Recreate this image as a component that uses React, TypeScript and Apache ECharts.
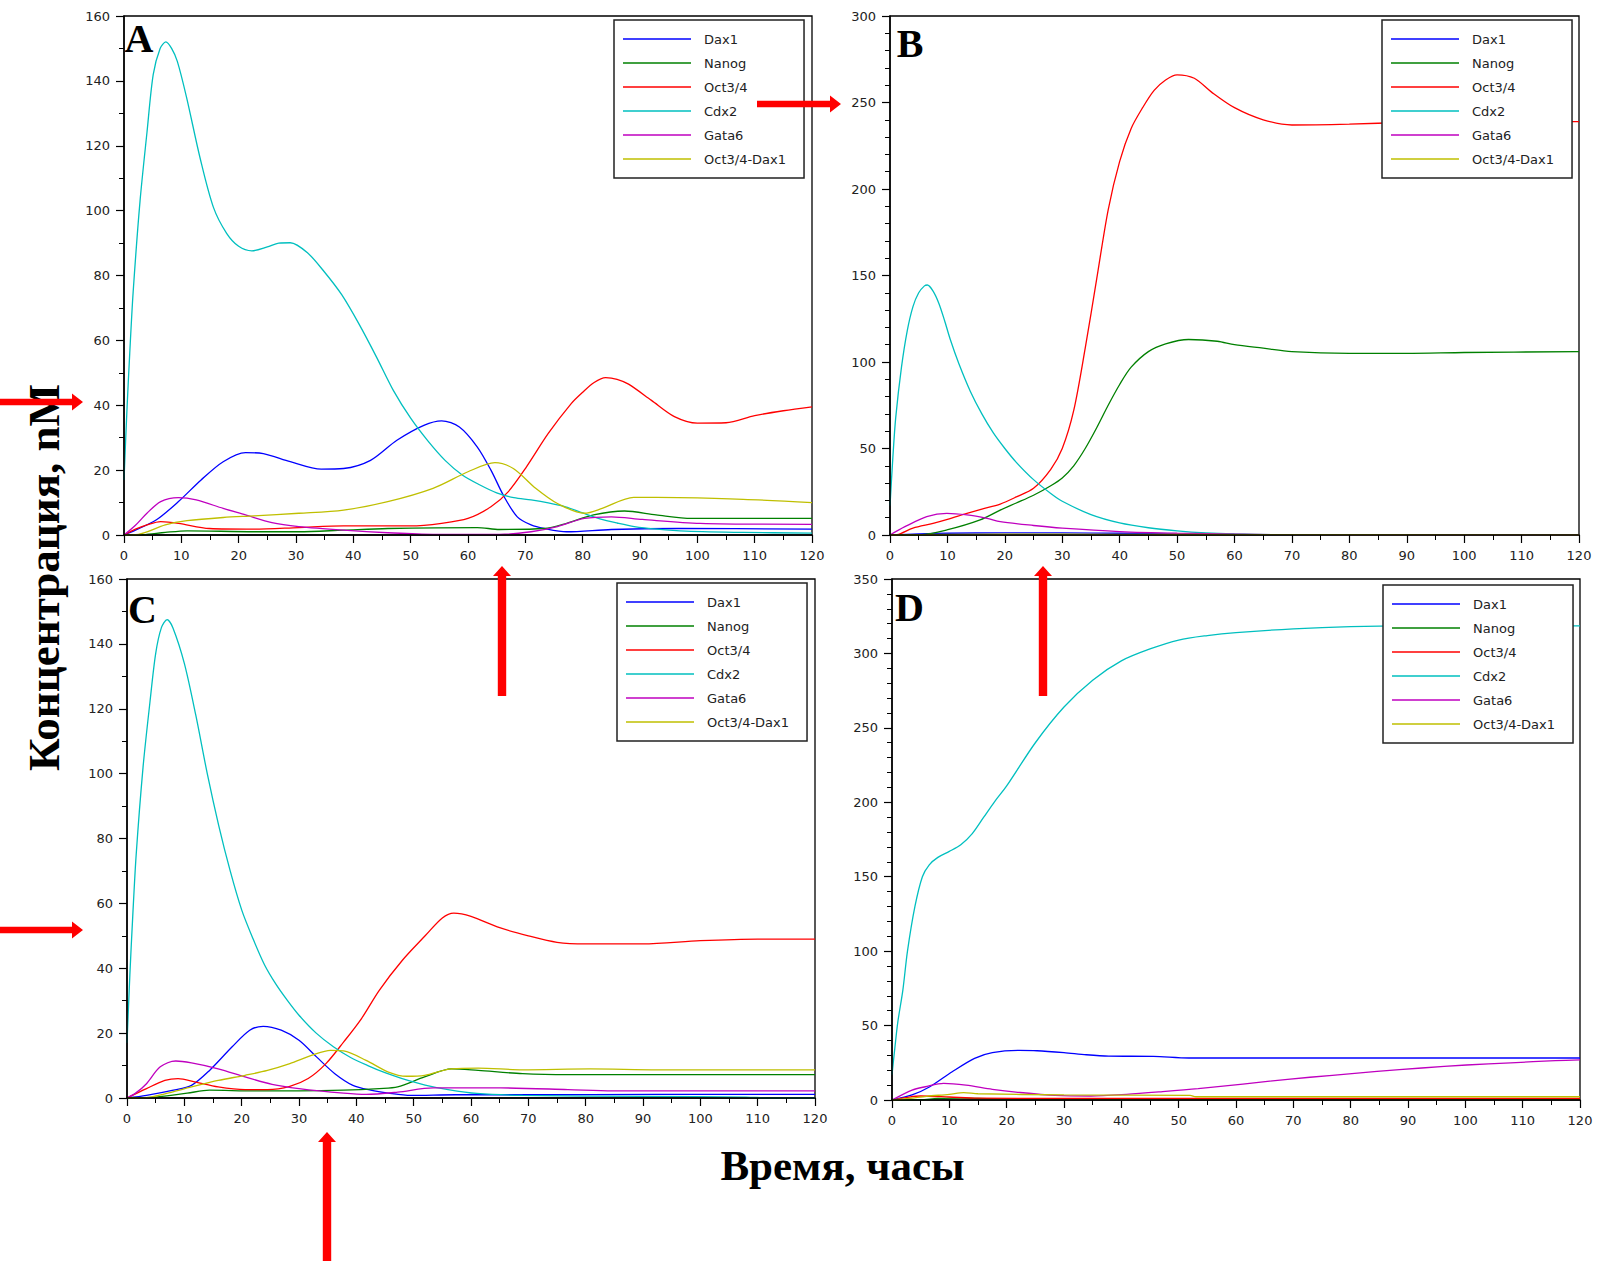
import React, { useEffect, useRef } from "react";
import * as echarts from "echarts";

const NAMES = ["Dax1", "Nanog", "Oct3/4", "Cdx2", "Gata6", "Oct3/4-Dax1"];
const COLORS = ["#0000ff", "#008000", "#ff0000", "#00bfbf", "#bf00bf", "#bfbf00"];
const PANEL_LETTERS = ["A", "B", "C", "D"];
const Y_MAX = [160, 300, 160, 350];
const Y_STEP = [20, 50, 20, 50];
const Y_MINOR = [2, 5, 2, 5];
const X_TITLE = "Время, часы";
const Y_TITLE = "Концентрация, nM";

// ---------- Panel A ----------
const A_dax1 = [[0,0],[2,1.5],[5.6,4.6],[9.5,10.3],[13.4,16.9],[17.3,22.6],[21.2,25.4],[24.3,25.1],[29,22.6],[34.4,20.3],[38.3,20.5],[43,23],[47.6,29.2],[52.3,33.8],[55.4,35.2],[58.5,33.3],[61.6,27.2],[64,20],[66.3,11.8],[68.6,5.6],[71,3.1],[73.3,2],[77.2,1],[85,1.7],[96.7,2],[120,1.8]];
const A_nanog = [[0,0],[3.3,0.1],[7.2,0.8],[11,1.3],[22.7,1],[30.5,1],[38.3,1.5],[46,2],[61.6,2.3],[65.5,1.7],[73.3,2],[77.2,3.6],[81.9,6.2],[87.3,7.4],[92.8,6.2],[99,5.1],[120,5.1]];
const A_oct4 = [[0,0],[2,1.8],[4,3.1],[6.4,4.1],[9.5,3.6],[14.9,2],[22.7,1.8],[30.5,2.3],[38.3,2.8],[50,2.8],[55.4,3.6],[60,5.1],[64,8.7],[67,13.3],[70.2,21],[74,31.3],[78,40.5],[80,44],[82,47],[84,48.5],[86,48],[88,46.5],[92,41.5],[96,36.5],[100,34.5],[105,34.6],[110,36.8],[115,38.3],[120,39.5]];
const A_cdx2 = [[0,17],[0.5,38],[1,56],[1.6,75],[2.8,103],[4,124],[5.1,142],[6.3,150],[7.3,152],[8.3,150],[9.3,146],[10.9,135],[13.3,116],[15.6,101],[17.9,93],[20,89],[22.3,87.6],[25,88.8],[27,90],[29,90.1],[32,87],[35,81],[38,74],[41,65],[44,55],[47,44.5],[50,36],[53,29],[56,23],[59,18.5],[62,15.5],[65,13],[68,11.5],[71,10.8],[74,9.9],[77,8.7],[80,6.8],[83,5],[86,3.7],[89,2.6],[93,1.8],[98,1.2],[108,0.8],[120,0.6]];
const A_gata6 = [[0,0],[2,3],[4,6.7],[6.4,10.3],[9.5,11.5],[12.6,10.8],[17.3,8.2],[21.2,6.2],[25.8,3.8],[30.5,2.6],[38.3,1.5],[46,0.7],[53.9,0.2],[65.5,0.2],[71,1],[75.6,2.6],[80.3,5.1],[85,5.6],[90.4,4.8],[100.5,3.6],[120,3.3]];
const A_complex = [[0,0],[2.5,0.2],[7.2,3.1],[11,4.4],[17.3,5.4],[22.7,5.9],[30.5,6.7],[38.3,7.7],[46,10.3],[53.9,14.4],[60,19.5],[64.7,22.3],[67.9,20.5],[71.8,14.4],[75.6,9.7],[80.3,6.7],[83.4,8.2],[88.9,11.6],[96.7,11.5],[108,11],[120,10]];

// ---------- Panel B ----------
const B_dax1 = [[0,0],[5,0.6],[10,1],[20,1.2],[30,1.2],[40,1],[50,0.8],[56,0.5],[70,0.1],[120,0]];
const B_nanog = [[0,0],[5.2,0.1],[9.9,2.9],[15.7,8.7],[19.2,14.4],[22,18.5],[25,23],[28,28.5],[30,33],[32,40],[34,50],[36,62],[38,75],[40,87],[42,97],[45,106],[48,110.5],[52,113],[57,112],[60,110],[65,108],[70,106],[80,105],[90,105],[100,105.5],[120,106]];
const B_oct4 = [[0,0],[1.2,0.2],[4,4],[7.5,6.7],[10,9],[13.4,12.5],[16,15],[19.2,17.9],[22,22],[25,27],[28,38],[30,50],[32,72],[34,108],[36,148],[38,188],[40,216],[42,235],[44,247],[46,257],[48,263],[50,266],[53,264],[56,256],[60,247],[65,240],[70,237],[80,237.5],[90,238.5],[100,239],[120,239]];
const B_cdx2 = [[0,17],[0.5,45],[1,68],[2,97],[3,118],[4,132],[5,140],[6,144],[6.5,144.5],[7.5,141],[8.5,134],[9.5,124],[10.5,113],[12,99],[14,83],[16,70],[18,59],[20,50],[22,42],[25,32],[28,24],[30,19.5],[35,11.8],[40,7],[45,4.2],[50,2.4],[55,1.2],[60,0.6],[67,0.2],[80,0],[120,0]];
const B_gata6 = [[0,0],[2.6,4.8],[6.4,10.6],[9.9,12.5],[13.4,11.6],[16.9,9.6],[19.2,7.7],[25,5.5],[30,4],[40,2],[50,1],[60,0.5],[67,0.2],[80,0],[120,0]];
const B_complex = [[0,0],[10,0.3],[30,0.5],[50,0.3],[120,0]];

// ---------- Panel C ----------
const C_dax1 = [[0,0],[3.4,0.8],[8.1,2.4],[11.25,3.9],[14.4,8.5],[18.3,15.7],[21.4,20.9],[23.75,22.1],[26.9,20.9],[30,17.8],[33.1,12.6],[36.25,7.5],[39.4,3.9],[42.5,2.4],[45.6,1.5],[49.5,0.8],[57.3,1],[69,1],[92.5,1.1],[120,1.1]];
const C_nanog = [[0,0],[5,0.3],[10.5,1.5],[14.4,2.4],[22.2,2.2],[30,2.2],[37.8,2.4],[44,2.9],[47.2,3.4],[51.9,6.5],[56.6,9],[61.25,8.5],[69,7.5],[76.9,7.2],[120,7.2]];
const C_oct4 = [[0,0],[3.4,2.9],[6.6,5.4],[8.9,6],[12,4.9],[15.9,3.4],[20.6,2.6],[24.5,2.6],[28.4,3.6],[31.6,6],[34.7,10.6],[37.8,17.3],[40.9,24.5],[44,33.2],[48,42.4],[52,50],[55,55.5],[57,57],[60,56],[65,52.5],[70,50],[75,48],[80,47.5],[90,47.5],[100,48.5],[110,49],[120,49]];
const C_cdx2 = [[0,17],[0.5,38],[1,56],[1.6,75],[2.8,102],[4,122],[5,137],[6,145],[7,147.5],[8,145],[10,134],[12,118],[14,100],[16,84],[18,70],[20,58],[22,49],[24,41],[26,35],[28,30],[30,25.5],[33,20],[36,15.8],[39,12.5],[42,10],[45,7.8],[48,6],[52,4],[56,2.6],[61,1.4],[69,0.8],[90,0.5],[108,0.3],[112,0],[120,0]];
const C_gata6 = [[0,0],[1.5,1.5],[3.4,4.4],[5.8,9.6],[8.5,11.4],[11.25,10.8],[15.9,9],[20.6,6.5],[25.3,4.2],[30,2.9],[37.8,1.5],[41.7,1.1],[47.2,1.8],[53.4,3.1],[65.2,3.1],[76.9,2.6],[84.7,2.2],[120,2.2]];
const C_complex = [[0,0],[3.4,0.1],[6.6,1.3],[11.25,3.4],[15.9,5.4],[20.6,7],[24.5,8.5],[28.4,10.6],[32.3,13.2],[35.5,14.7],[37.8,14.5],[41.7,11.6],[45.6,8],[48.75,6.7],[51.9,7],[56.6,9],[61.25,9.2],[69,8.7],[80.8,9],[92.5,8.7],[120,8.7]];

// ---------- Panel D ----------
const D_dax1 = [[0,0],[3.5,3.4],[6.6,8.9],[10.5,19],[14.4,28],[17.5,31.8],[22.2,33.3],[25.3,33.1],[30,31.8],[33.9,30.4],[37.8,29.5],[45.6,29.3],[51.8,28.2],[69,28.2],[120,28.2]];
const D_nanog = [[0,0],[5,0.2],[8,1],[12,1.2],[20,0.8],[40,0.5],[120,0.5]];
const D_oct4 = [[0,0],[3,2],[5,2.7],[10,2],[15,1.2],[30,1],[120,1]];
const D_cdx2 = [[0,17],[0.5,35],[1,52],[1.9,74],[2.7,100],[4,130],[5.3,150],[6.5,158],[8,163],[10,167],[12,171.5],[14,179],[16,190],[18,201],[20,211],[25,240],[30,264],[35,282],[40,295],[45,303],[50,309],[55,312],[60,314],[70,316.5],[80,318],[90,318.5],[120,318.5]];
const D_gata6 = [[0,0],[3.5,6.7],[5.8,8.9],[9,11.2],[12.9,10],[17.5,7.2],[22.2,5.1],[28.4,3.1],[34.7,2.7],[40.9,3.8],[47.2,5.6],[53.4,7.6],[61.2,10.7],[69,13.9],[76.8,16.6],[84.6,19.2],[92.4,21.5],[100.2,23.5],[107.9,25],[115.7,26.4],[120,27]];
const D_complex = [[0,0],[3,1],[6,2.5],[10,3.8],[12.5,5],[15,4.2],[30,3.4],[52,3.1],[53,2.2],[120,2.2]];

const PANEL_DATA = [
  [A_dax1, A_nanog, A_oct4, A_cdx2, A_gata6, A_complex],
  [B_dax1, B_nanog, B_oct4, B_cdx2, B_gata6, B_complex],
  [C_dax1, C_nanog, C_oct4, C_cdx2, C_gata6, C_complex],
  [D_dax1, D_nanog, D_oct4, D_cdx2, D_gata6, D_complex],
];

// layout (pixels)
const GRIDS = [
  { left: 124, top: 16, width: 688, height: 519 },
  { left: 890, top: 16, width: 689, height: 519 },
  { left: 127, top: 579, width: 688, height: 519 },
  { left: 892, top: 579, width: 688, height: 521 },
];
const LEGEND_POS = [
  { left: 614, top: 20 },
  { left: 1382, top: 20 },
  { left: 617, top: 583 },
  { left: 1383, top: 585 },
];
const LETTER_POS = [
  [139, 38.5],
  [910, 43.5],
  [142.5, 609],
  [909.5, 607.5],
];

const TICK_FONT = "DejaVu Sans";
const SERIF = "Liberation Serif";

function hArrow(x0: number, x1: number, y: number) {
  const s = 3.3, hl = 11, hw = 8.5;
  return {
    type: "polygon",
    silent: true,
    z: 100,
    shape: { points: [[x0, y - s], [x1 - hl, y - s], [x1 - hl, y - hw], [x1, y], [x1 - hl, y + hw], [x1 - hl, y + s], [x0, y + s]] },
    style: { fill: "#ff0000" },
  };
}
function vArrow(x: number, yTip: number, yTail: number) {
  const s = 4.2, hl = 10, hw = 9;
  return {
    type: "polygon",
    silent: true,
    z: 100,
    shape: { points: [[x - s, yTail], [x - s, yTip + hl], [x - hw, yTip + hl], [x, yTip], [x + hw, yTip + hl], [x + s, yTip + hl], [x + s, yTail]] },
    style: { fill: "#ff0000" },
  };
}

export default function App() {
  const ref = useRef<HTMLDivElement>(null);
  useEffect(() => {
    if (!ref.current) return;
    const chart = echarts.init(ref.current, undefined, { renderer: "svg" });

    const grid = GRIDS.map((g) => ({ ...g, show: true, borderColor: "#000", borderWidth: 1.3, containLabel: false }));
    const xAxis = GRIDS.map((_, i) => ({
      type: "value",
      gridIndex: i,
      z: 5,
      min: 0,
      max: 120,
      interval: 10,
      axisLine: { show: true, onZero: false, lineStyle: { color: "#000", width: 1.5 } },
      axisTick: { show: true, length: 8, lineStyle: { color: "#000", width: 1.2 } },
      minorTick: { show: true, splitNumber: 2, length: 5, lineStyle: { color: "#000", width: 1 } },
      splitLine: { show: false },
      axisLabel: { margin: 14, fontFamily: TICK_FONT, fontSize: 13, color: "#222" },
    }));
    const yAxis = GRIDS.map((_, i) => ({
      type: "value",
      gridIndex: i,
      z: 5,
      min: 0,
      max: Y_MAX[i],
      interval: Y_STEP[i],
      axisLine: { show: true, onZero: false, lineStyle: { color: "#000", width: 1.5 } },
      axisTick: { show: true, length: 8, lineStyle: { color: "#000", width: 1.2 } },
      minorTick: { show: true, splitNumber: Y_MINOR[i], length: 5, lineStyle: { color: "#000", width: 1 } },
      splitLine: { show: false },
      axisLabel: { margin: 14, fontFamily: TICK_FONT, fontSize: 13, color: "#222" },
    }));

    const series: any[] = [];
    PANEL_DATA.forEach((sets, i) => {
      sets.forEach((d, k) => {
        series.push({
          type: "line",
          name: NAMES[k],
          xAxisIndex: i,
          yAxisIndex: i,
          data: d,
          symbol: "none",
          showSymbol: false,
          smooth: 0.3,
          silent: true,
          z: 2,
          lineStyle: { width: 1.3, color: COLORS[k] },
          itemStyle: { color: COLORS[k] },
        });
      });
    });

    const legend = LEGEND_POS.map((p) => ({
      show: true,
      z: 6,
      orient: "vertical",
      left: p.left,
      top: p.top,
      padding: [12, 18, 12, 9],
      itemWidth: 68,
      itemHeight: 1.6,
      itemGap: 10,
      icon: "rect",
      selectedMode: false,
      borderColor: "#222",
      borderWidth: 1.5,
      backgroundColor: "#fff",
      data: NAMES,
      textStyle: { fontFamily: TICK_FONT, fontSize: 13, color: "#222", lineHeight: 14, padding: [0, 0, 0, 8] },
    }));

    const graphic: any[] = [];
    PANEL_LETTERS.forEach((L, i) => {
      graphic.push({
        type: "text",
        silent: true,
        z: 100,
        x: LETTER_POS[i][0],
        y: LETTER_POS[i][1],
        style: {
          text: L,
          font: `bold 40px "${SERIF}"`,
          fill: "#000",
          textAlign: "center",
          textVerticalAlign: "middle",
          align: "center",
          verticalAlign: "middle",
        },
      });
    });
    graphic.push({
      type: "text",
      silent: true,
      z: 100,
      x: 43.5,
      y: 577.5,
      rotation: Math.PI / 2,
      style: {
        text: Y_TITLE,
        font: `bold 45px "${SERIF}"`,
        fill: "#000",
        textAlign: "center",
        textVerticalAlign: "middle",
        align: "center",
        verticalAlign: "middle",
      },
    });
    graphic.push({
      type: "text",
      silent: true,
      z: 100,
      x: 842.5,
      y: 1165,
      style: {
        text: X_TITLE,
        font: `bold 43px "${SERIF}"`,
        fill: "#000",
        textAlign: "center",
        textVerticalAlign: "middle",
        align: "center",
        verticalAlign: "middle",
      },
    });
    graphic.push(hArrow(0, 83, 402));
    graphic.push(hArrow(0, 83, 930));
    graphic.push(hArrow(757, 841, 104));
    graphic.push(vArrow(502, 566, 696));
    graphic.push(vArrow(1043, 566, 696));
    graphic.push(vArrow(327, 1132, 1261));

    chart.setOption({
      animation: false,
      backgroundColor: "#fff",
      grid,
      xAxis,
      yAxis,
      legend,
      series,
      graphic,
    });
    return () => chart.dispose();
  }, []);

  return (
    <div
      ref={ref}
      style={{ position: "absolute", left: 0, top: 0, width: 1600, height: 1261, background: "#fff" }}
    />
  );
}
